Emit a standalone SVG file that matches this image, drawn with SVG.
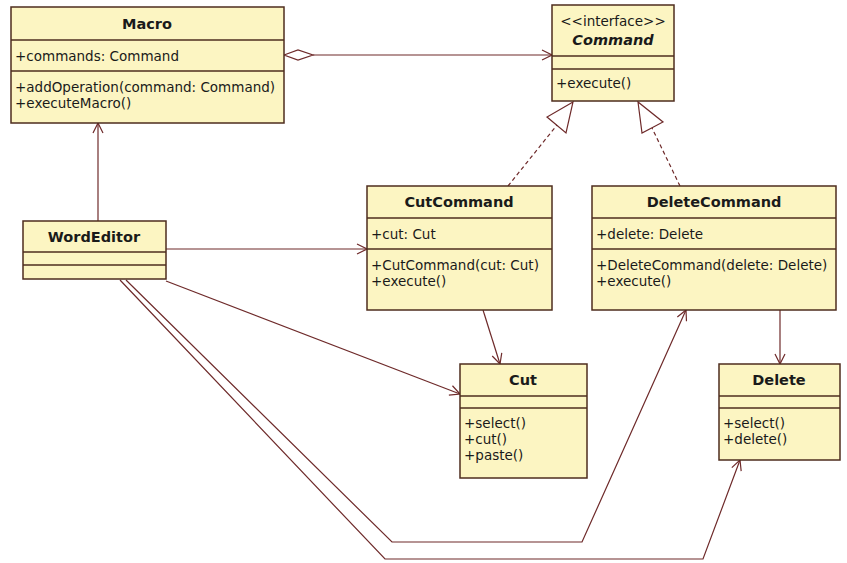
<svg xmlns="http://www.w3.org/2000/svg" width="847" height="563" viewBox="0 0 847 563">
  <style>
    .box { fill: #fcf5c2; stroke: #4e2c1e; stroke-width: 1.5; }
    .sep { stroke: #4e2c1e; stroke-width: 1.5; }
    .t { font-family: "DejaVu Sans", Verdana, sans-serif; font-size: 13.5px; fill: #1a1a1a; }
    .b { font-weight: bold; font-size: 14.5px; text-anchor: middle; }
    .edge { fill: none; stroke: #6e2a2a; stroke-width: 1.2; }
    .dash { stroke-dasharray: 4 3; }
  </style>
  <defs>
    <marker id="open" markerWidth="12" markerHeight="12" refX="11" refY="6" orient="auto" markerUnits="userSpaceOnUse">
      <path d="M1,1 L11,6 L1,11" fill="none" stroke="#6e2a2a" stroke-width="1.2"/>
    </marker>
  </defs>
  <rect width="847" height="563" fill="#ffffff"/>

  <g id="connectors">
    <!-- Macro aggregates Command -->
    <path class="edge" d="M284,55 L298,50 L313,55 L298,60 Z" fill="#ffffff"/>
    <line class="edge" x1="313" y1="55" x2="552" y2="55" marker-end="url(#open)"/>
    <!-- WordEditor -> Macro -->
    <line class="edge" x1="98" y1="221" x2="98" y2="123" marker-end="url(#open)"/>
    <!-- WordEditor -> CutCommand -->
    <line class="edge" x1="166" y1="249" x2="367" y2="249" marker-end="url(#open)"/>
    <!-- WordEditor -> Cut -->
    <line class="edge" x1="166" y1="281" x2="460" y2="394" marker-end="url(#open)"/>
    <!-- WordEditor -> DeleteCommand -->
    <polyline class="edge" points="126,280 392,542 582,542 686,310" marker-end="url(#open)"/>
    <!-- WordEditor -> Delete -->
    <polyline class="edge" points="120,280 385,559 703,559 740,460" marker-end="url(#open)"/>
    <!-- CutCommand -> Cut -->
    <line class="edge" x1="483" y1="310" x2="500" y2="364" marker-end="url(#open)"/>
    <!-- DeleteCommand -> Delete -->
    <line class="edge" x1="780" y1="310" x2="780" y2="364" marker-end="url(#open)"/>
    <!-- realizations of Command -->
    <line class="edge dash" x1="508" y1="186" x2="557" y2="125"/>
    <path class="edge" d="M573,102 L547,117 L566,133 Z" fill="#ffffff"/>
    <line class="edge dash" x1="680" y1="186" x2="652" y2="128"/>
    <path class="edge" d="M638,102 L642,133 L663,122 Z" fill="#ffffff"/>
  </g>

  <g id="Macro">
    <rect class="box" x="11" y="7" width="273" height="116"/>
    <line class="sep" x1="11" y1="40" x2="284" y2="40"/>
    <line class="sep" x1="11" y1="71" x2="284" y2="71"/>
    <text class="t b" x="147" y="29">Macro</text>
    <text class="t" x="15" y="61">+commands: Command</text>
    <text class="t" x="15" y="92">+addOperation(command: Command)</text>
    <text class="t" x="15" y="108">+executeMacro()</text>
  </g>

  <g id="Command">
    <rect class="box" x="552" y="5" width="122" height="96"/>
    <line class="sep" x1="552" y1="56" x2="674" y2="56"/>
    <line class="sep" x1="552" y1="69" x2="674" y2="69"/>
    <text class="t" x="613" y="26" text-anchor="middle">&lt;&lt;interface&gt;&gt;</text>
    <text class="t b" x="613" y="45" font-style="italic">Command</text>
    <text class="t" x="556" y="88">+execute()</text>
  </g>

  <g id="WordEditor">
    <rect class="box" x="23" y="221" width="143" height="58"/>
    <line class="sep" x1="23" y1="252" x2="166" y2="252"/>
    <line class="sep" x1="23" y1="265" x2="166" y2="265"/>
    <text class="t b" x="94" y="242">WordEditor</text>
  </g>

  <g id="CutCommand">
    <rect class="box" x="367" y="186" width="185" height="124"/>
    <line class="sep" x1="367" y1="218" x2="552" y2="218"/>
    <line class="sep" x1="367" y1="249" x2="552" y2="249"/>
    <text class="t b" x="459" y="207">CutCommand</text>
    <text class="t" x="371" y="239">+cut: Cut</text>
    <text class="t" x="371" y="270">+CutCommand(cut: Cut)</text>
    <text class="t" x="371" y="286">+execute()</text>
  </g>

  <g id="DeleteCommand">
    <rect class="box" x="592" y="186" width="244" height="124"/>
    <line class="sep" x1="592" y1="218" x2="836" y2="218"/>
    <line class="sep" x1="592" y1="249" x2="836" y2="249"/>
    <text class="t b" x="714" y="207">DeleteCommand</text>
    <text class="t" x="596" y="239">+delete: Delete</text>
    <text class="t" x="596" y="270">+DeleteCommand(delete: Delete)</text>
    <text class="t" x="596" y="286">+execute()</text>
  </g>

  <g id="Cut">
    <rect class="box" x="460" y="364" width="127" height="114"/>
    <line class="sep" x1="460" y1="396" x2="587" y2="396"/>
    <line class="sep" x1="460" y1="408" x2="587" y2="408"/>
    <text class="t b" x="523" y="385">Cut</text>
    <text class="t" x="464" y="428">+select()</text>
    <text class="t" x="464" y="444">+cut()</text>
    <text class="t" x="464" y="460">+paste()</text>
  </g>

  <g id="Delete">
    <rect class="box" x="719" y="364" width="121" height="96"/>
    <line class="sep" x1="719" y1="396" x2="840" y2="396"/>
    <line class="sep" x1="719" y1="408" x2="840" y2="408"/>
    <text class="t b" x="779" y="385">Delete</text>
    <text class="t" x="723" y="428">+select()</text>
    <text class="t" x="723" y="444">+delete()</text>
  </g>
</svg>
